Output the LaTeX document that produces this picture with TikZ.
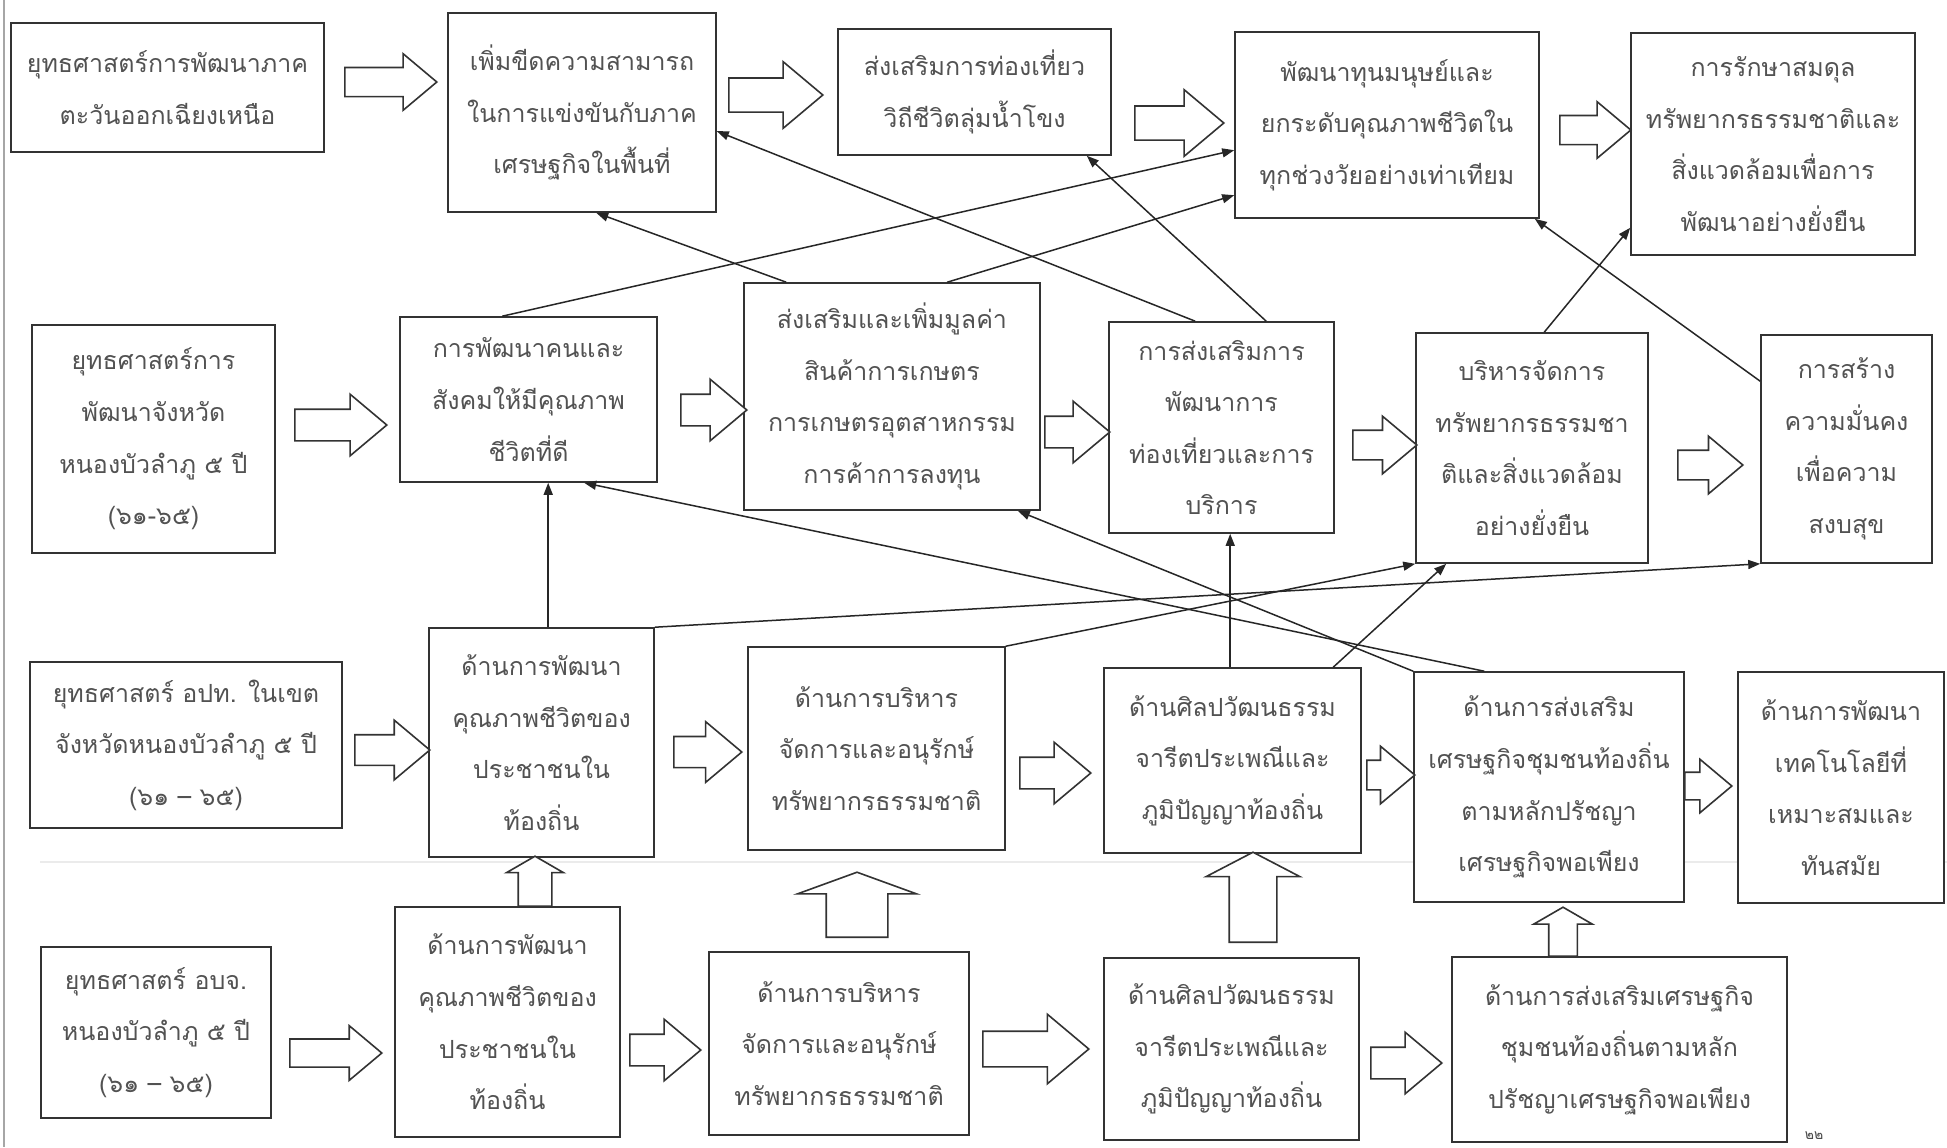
\documentclass[tikz,border=0pt]{standalone}
\usepackage{fontspec}
\newfontfamily\thaifont[Script=Thai]{Loma}
\usetikzlibrary{shapes.arrows,arrows.meta,calc}

\newcommand\mybox[6]{%
  \pgfmathsetmacro\bxW{(#4-#2)*0.5}%
  \pgfmathsetmacro\bxH{(#5-#3)*0.5}%
  \pgfmathsetmacro\bxX{(#2+#4)/2}%
  \pgfmathsetmacro\bxY{(#3+#5)/2}%
  \node[box, minimum width=\bxW pt, minimum height=\bxH pt] (#1) at (\bxX,\bxY) {#6};}
\newcommand\rarrow[5]{%
  \pgfmathsetmacro\arL{(#3-#2)*0.5}%
  \pgfmathsetmacro\arH{#5*0.125}%
  \node[barrow, minimum height=\arL pt, inner ysep=\arH pt, single arrow head extend=\arH pt] (#1) at (#2,#4) {};}
\newcommand\uarrow[7]{%
  \pgfmathsetmacro\arL{(#3-#4)*0.5}%
  \pgfmathsetmacro\arS{#6*0.25}%
  \pgfmathsetmacro\arE{(#5-#6)*0.25}%
  \node[barrow, rotate=90, single arrow tip angle=#7, minimum height=\arL pt, inner ysep=\arS pt, single arrow head extend=\arE pt] (#1) at (#2,#3) {};}

\begin{document}
\begin{tikzpicture}[x=0.5pt,y=-0.5pt,
  box/.style={draw=black!80, line width=0.8pt, fill=white, inner sep=0pt, align=center,
    text=black!68, font=\thaifont\fontsize{12.5}{25.8}\selectfont},
  barrow/.style={draw=black!80, line width=0.8pt, fill=white, single arrow, anchor=tail,
    inner xsep=0pt, minimum width=0pt, single arrow tip angle=80},
  conn/.style={draw=black!85, line width=0.75pt, -{Triangle[length=6pt,width=4.5pt]}}]
\fill[white] (0,0) rectangle (1947,1147);
\useasboundingbox (0,0) rectangle (1947,1147);
\draw[black!35, line width=0.8pt] (4,0) -- (4,1147);
\draw[black!8, line width=0.8pt] (40,862) -- (1947,862);

% Row 1
\mybox{A1}{11}{23}{324}{152}{ยุทธศาสตร์การพัฒนาภาค\\ตะวันออกเฉียงเหนือ}
\mybox{B1}{448}{13}{716}{212}{เพิ่มขีดความสามารถ\\ในการแข่งขันกับภาค\\เศรษฐกิจในพื้นที่}
\mybox{C1}{838}{29}{1111}{155}{ส่งเสริมการท่องเที่ยว\\วิถีชีวิตลุ่มน้ำโขง}
\mybox{D1}{1235}{32}{1539}{218}{พัฒนาทุนมนุษย์และ\\ยกระดับคุณภาพชีวิตใน\\ทุกช่วงวัยอย่างเท่าเทียม}
\mybox{E1}{1631}{33}{1915}{255}{การรักษาสมดุล\\ทรัพยากรธรรมชาติและ\\สิ่งแวดล้อมเพื่อการ\\พัฒนาอย่างยั่งยืน}
% Row 2
\mybox{A2}{32}{325}{275}{553}{ยุทธศาสตร์การ\\พัฒนาจังหวัด\\หนองบัวลำภู ๕ ปี\\(๖๑-๖๕)}
\mybox{B2}{400}{317}{657}{482}{การพัฒนาคนและ\\สังคมให้มีคุณภาพ\\ชีวิตที่ดี}
\mybox{C2}{744}{283}{1040}{510}{ส่งเสริมและเพิ่มมูลค่า\\สินค้าการเกษตร\\การเกษตรอุตสาหกรรม\\การค้าการลงทุน}
\mybox{D2}{1109}{322}{1334}{533}{การส่งเสริมการ\\พัฒนาการ\\ท่องเที่ยวและการ\\บริการ}
\mybox{E2}{1416}{333}{1648}{563}{บริหารจัดการ\\ทรัพยากรธรรมชา\\ติและสิ่งแวดล้อม\\อย่างยั่งยืน}
\mybox{F2}{1761}{335}{1932}{563}{การสร้าง\\ความมั่นคง\\เพื่อความ\\สงบสุข}
% Row 3
\mybox{A3}{30}{662}{342}{828}{ยุทธศาสตร์ อปท. ในเขต\\จังหวัดหนองบัวลำภู ๕ ปี\\(๖๑ – ๖๕)}
\mybox{B3}{429}{628}{654}{857}{ด้านการพัฒนา\\คุณภาพชีวิตของ\\ประชาชนใน\\ท้องถิ่น}
\mybox{C3}{748}{647}{1005}{850}{ด้านการบริหาร\\จัดการและอนุรักษ์\\ทรัพยากรธรรมชาติ}
\mybox{D3}{1104}{668}{1361}{853}{ด้านศิลปวัฒนธรรม\\จารีตประเพณีและ\\ภูมิปัญญาท้องถิ่น}
\mybox{E3}{1414}{672}{1684}{902}{ด้านการส่งเสริม\\เศรษฐกิจชุมชนท้องถิ่น\\ตามหลักปรัชญา\\เศรษฐกิจพอเพียง}
\mybox{F3}{1738}{672}{1944}{903}{ด้านการพัฒนา\\เทคโนโลยีที่\\เหมาะสมและ\\ทันสมัย}
% Row 4
\mybox{A4}{41}{947}{271}{1118}{ยุทธศาสตร์ อบจ.\\หนองบัวลำภู ๕ ปี\\(๖๑ – ๖๕)}
\mybox{B4}{395}{907}{620}{1137}{ด้านการพัฒนา\\คุณภาพชีวิตของ\\ประชาชนใน\\ท้องถิ่น}
\mybox{C4}{709}{952}{969}{1135}{ด้านการบริหาร\\จัดการและอนุรักษ์\\ทรัพยากรธรรมชาติ}
\mybox{D4}{1104}{958}{1359}{1140}{ด้านศิลปวัฒนธรรม\\จารีตประเพณีและ\\ภูมิปัญญาท้องถิ่น}
\mybox{E4}{1452}{957}{1787}{1142}{ด้านการส่งเสริมเศรษฐกิจ\\ชุมชนท้องถิ่นตามหลัก\\ปรัชญาเศรษฐกิจพอเพียง}

% block arrows (right)
\rarrow{r1}{344}{436}{82}{55}
\rarrow{r2}{728}{822}{95}{65}
\rarrow{r3}{1134}{1223}{123}{65}
\rarrow{r4}{1559}{1630}{130}{55}
\rarrow{r5}{294}{386}{425}{60}
\rarrow{r6}{680}{746}{410}{60}
\rarrow{r7}{1044}{1109}{432}{60}
\rarrow{r8}{1352}{1416}{445}{56}
\rarrow{r9}{1677}{1742}{465}{56}
\rarrow{r10}{354}{429}{750}{58}
\rarrow{r11}{673}{741}{752}{59}
\rarrow{r12}{1019}{1090}{773}{60}
\rarrow{r13}{1366}{1414}{775}{56}
\rarrow{r14}{1684}{1731}{786}{52}
\rarrow{r15}{289}{381}{1053}{53}
\rarrow{r16}{629}{700}{1050}{60}
\rarrow{r17}{982}{1088}{1049}{68}
\rarrow{r18}{1370}{1441}{1063}{60}
% block arrows (up)
\uarrow{u1}{535}{907}{857}{55}{32}{120}
\uarrow{u2}{857}{938}{873}{117}{60}{140}
\uarrow{u3}{1253}{943}{853}{92}{46}{125}
\uarrow{u4}{1563}{957}{908}{57}{27}{120}

% thin connectors
\draw[conn] ($(B2.north west)+(103,0)$) -- ($(D1.north west)+(0,119)$);
\draw[conn] ($(C2.north west)+(43,0)$) -- ($(B1.south west)+(149,0)$);
\draw[conn] ($(C2.north west)+(204,0)$) -- ($(D1.north west)+(0,164)$);
\draw[conn] ($(D2.north west)+(87,0)$) -- ($(B1.north east)+(0,119)$);
\draw[conn] ($(D2.north west)+(158,0)$) -- ($(C1.south east)+(-25,0)$);
\draw[conn] ($(E2.north west)+(129,0)$) -- ($(E1.south west)+(0,-28)$);
\draw[conn] ($(F2.north west)+(0,47)$) -- ($(D1.south east)+(-5,0)$);
\draw[conn] ($(B3.north west)+(120,0)$) -- ($(B2.south west)+(149,0)$);
\draw[conn] (B3.north east) -- (F2.south west);
\draw[conn] (C3.north east) -- (E2.south west);
\draw[conn] ($(D3.north west)+(127,0)$) -- ($(D2.south west)+(122,0)$);
\draw[conn] ($(D3.north west)+(230,0)$) -- ($(E2.south west)+(31,0)$);
\draw[conn] (E3.north west) -- ($(C2.south east)+(-23,0)$);
\draw[conn] ($(E3.north west)+(71,0)$) -- ($(B2.south west)+(185,0)$);

\node[text=black!70, font=\thaifont\fontsize{7}{8}\selectfont] (pg) at (1814,1136) {๒๒};
\end{tikzpicture}
\end{document}
